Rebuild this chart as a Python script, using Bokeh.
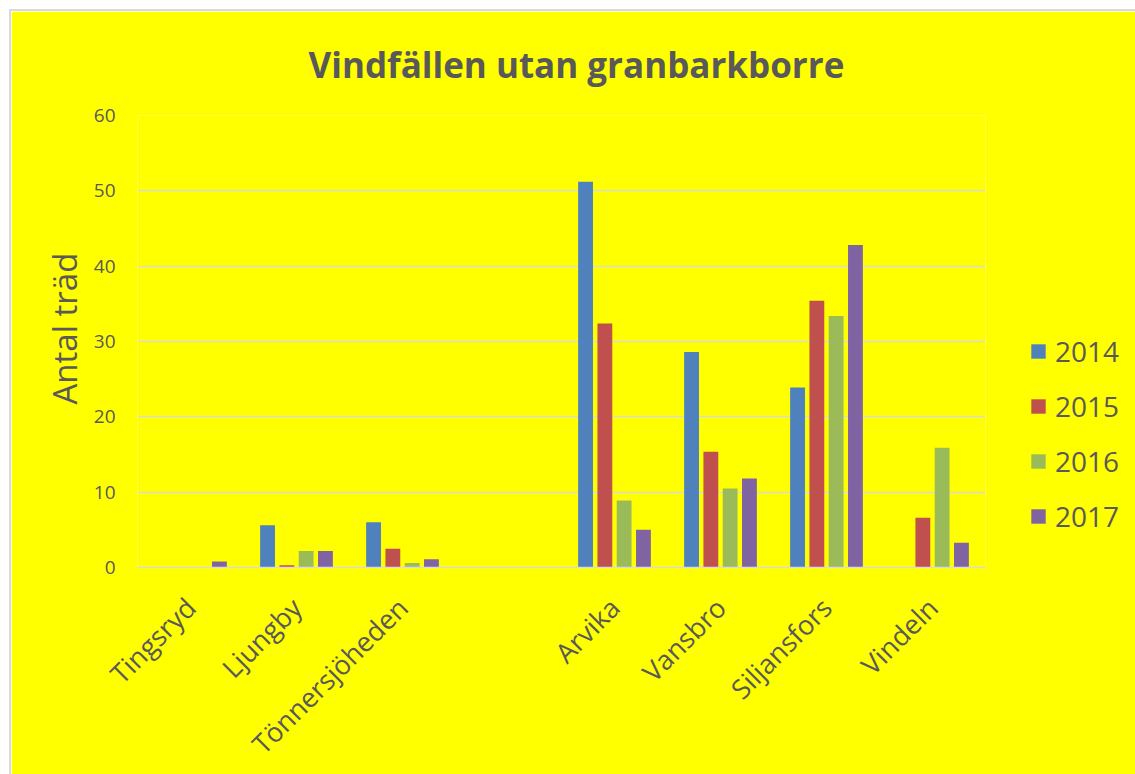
from bokeh.plotting import figure
from bokeh.models import FactorRange, Range1d, ColumnDataSource, Legend, LegendItem, Title
from bokeh.transform import dodge
from bokeh.embed import file_html
from bokeh.resources import INLINE
import math

categories = ["Tingsryd", "Ljungby", "Tönnersjöheden", " ", "Arvika", "Vansbro", "Siljansfors", "Vindeln"]
years = ["2014", "2015", "2016", "2017"]
v2014 = [0, 5.6, 6.0, 0, 51.2, 28.6, 23.9, 0]
v2015 = [0, 0.3, 2.5, 0, 32.4, 15.35, 35.4, 6.6]
v2016 = [0, 2.2, 0.6, 0, 8.9, 10.5, 33.4, 15.9]
v2017 = [0.8, 2.2, 1.1, 0, 5.0, 11.8, 42.8, 3.3]
colors = ["#4F81BD", "#C0504D", "#9BBB59", "#8064A2"]

FONT = "Open Sans"
GREY = "#595959"

src = ColumnDataSource(dict(cat=categories, y2014=v2014, y2015=v2015, y2016=v2016, y2017=v2017))

p = figure(x_range=FactorRange(factors=categories), y_range=Range1d(0, 60),
           frame_width=848, frame_height=452, output_backend="svg", toolbar_location=None,
           min_border_left=126, min_border_right=146, min_border_top=104, min_border_bottom=203)
p.styles = {"margin-left": "9px", "margin-top": "9px", "border": "2px solid #D9D9D9"}
p.background_fill_color = "#FFFF00"
p.border_fill_color = "#FFFF00"
p.outline_line_color = None

offsets = [-0.273, -0.091, 0.091, 0.273]
renderers = []
for yr, off, col in zip(years, offsets, colors):
    r = p.vbar(x=dodge("cat", off, range=p.x_range), top="y" + yr, width=0.14, source=src,
               fill_color=col, line_color=None)
    renderers.append(r)

p.title.text = "Vindfällen utan granbarkborre"
p.title.align = "left"
p.title.offset = 145
p.title.vertical_align = "top"
p.title.text_font = FONT
p.title.text_font_size = "35px"
p.title.text_font_style = "bold"
p.title.text_color = GREY
p.title.padding = 26
p.title.standoff = 0

ylabel = Title(text="Antal träd", align="left", offset=163, text_font=FONT,
               text_font_size="33px", text_font_style="normal", text_color=GREY, standoff=8)
p.add_layout(ylabel, "left")

p.xgrid.grid_line_color = None
p.ygrid.grid_line_color = "#D9D9D9"
p.ygrid.grid_line_width = 1.5

p.xaxis.axis_line_color = "#D9D9D9"
p.xaxis.axis_line_width = 1.5
p.xaxis.major_tick_line_color = None
p.xaxis.minor_tick_line_color = None
p.xaxis.major_label_orientation = math.pi / 4
p.xaxis.major_label_text_font = FONT
p.xaxis.major_label_text_font_size = "27px"
p.xaxis.major_label_text_color = GREY
p.xaxis.major_label_standoff = 29

p.yaxis.axis_line_color = None
p.yaxis.major_tick_line_color = None
p.yaxis.minor_tick_line_color = None
p.yaxis.ticker = [0, 10, 20, 30, 40, 50, 60]
p.yaxis.major_label_text_font = FONT
p.yaxis.major_label_text_font_size = "19px"
p.yaxis.major_label_text_color = GREY
p.yaxis.major_label_standoff = 16

legend = Legend(items=[LegendItem(label=yr, renderers=[r]) for yr, r in zip(years, renderers)],
                location=(44, 32))
legend.background_fill_alpha = 0
legend.border_line_color = None
legend.label_text_font = FONT
legend.label_text_font_size = "28px"
legend.label_text_color = GREY
legend.glyph_width = 18
legend.glyph_height = 18
legend.spacing = 17
legend.padding = 0
legend.margin = 0
legend.label_standoff = 8
p.add_layout(legend, "right")

open("out.html", "w").write(file_html(p, INLINE))
